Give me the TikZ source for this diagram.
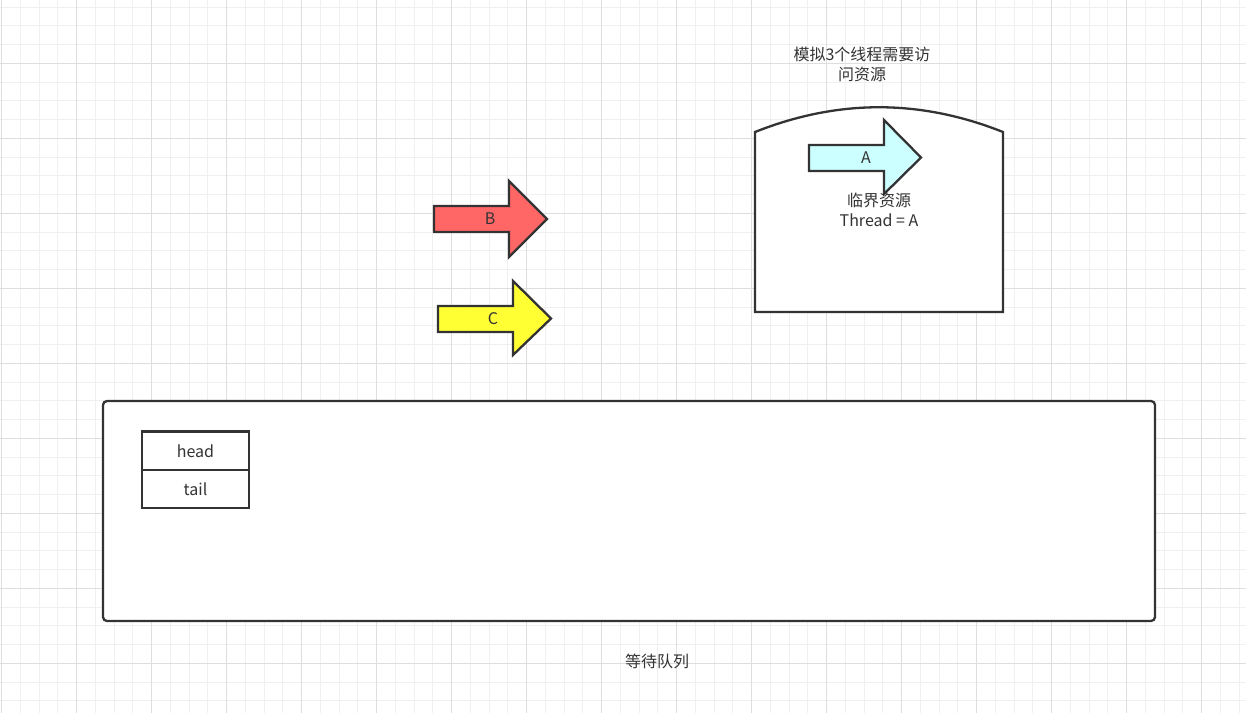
\documentclass[tikz,border=0pt]{standalone}
\usepackage{fontspec}
\setmainfont{Noto Sans CJK SC}
\definecolor{ln}{HTML}{333333}
\definecolor{gmin}{HTML}{F0F0F0}
\definecolor{gmaj}{HTML}{DEDEDE}
\definecolor{acol}{HTML}{CCFFFF}
\definecolor{bcol}{HTML}{FF6666}
\definecolor{ccol}{HTML}{FFFF33}
\begin{document}
\begin{tikzpicture}[x=1pt,y=-1pt,
  shapeline/.style={draw=ln,line width=2.3pt,line join=miter},
  lbl/.style={text=ln,font=\fontsize{16}{20}\selectfont,align=center,inner sep=0pt},
  arrowlbl/.style={text=ln,font=\fontsize{16}{18}\selectfont,inner sep=0pt}]
\useasboundingbox (0,0) rectangle (1246,713);
\fill[white] (0,0) rectangle (1246,713);
% grid
\foreach \k in {0,...,66} {\draw[gmin,line width=1pt] ({1.7+18.75*\k},0) -- ({1.7+18.75*\k},713);}
\foreach \k in {0,...,37} {\draw[gmin,line width=1pt] (0,{7.05+18.75*\k}) -- (1246,{7.05+18.75*\k});}
\foreach \k in {0,...,16} {\draw[gmaj,line width=1pt] ({1.7+75*\k},0) -- ({1.7+75*\k},713);}
\foreach \k in {0,...,9} {\draw[gmaj,line width=1pt] (0,{63.3+75*\k}) -- (1246,{63.3+75*\k});}
% title
\node[lbl] (title) at (862,64) {模拟3个线程需要访\\问资源};
% critical resource shape
\draw[shapeline,fill=white] (755,312) -- (755,132) .. controls (838,99) and (920,99) .. (1003,132) -- (1003,312) -- cycle;
% arrow A
\draw[shapeline,fill=acol] (809,145) -- (884,145) -- (884,120) -- (921,157.5) -- (884,194) -- (884,171) -- (809,171) -- cycle;
\node[arrowlbl] (la) at (866,158) {A};
\node[lbl] (crit) at (879,210) {临界资源\\Thread = A};
% arrow B
\draw[shapeline,fill=bcol] (434,206) -- (509,206) -- (509,181) -- (547,219) -- (509,257) -- (509,232) -- (434,232) -- cycle;
\node[arrowlbl] (lb) at (490,219) {B};
% arrow C
\draw[shapeline,fill=ccol] (438,306) -- (513,306) -- (513,281) -- (551,318.5) -- (513,355) -- (513,332) -- (438,332) -- cycle;
\node[arrowlbl] (lc) at (493,319) {C};
% queue
\draw[shapeline,fill=white,rounded corners=4pt] (103,401) rectangle (1155,621);
\draw[shapeline,fill=white] (142,431.5) rectangle (249,470);
\draw[shapeline,fill=white] (142,470) rectangle (249,508);
\node[arrowlbl] (head) at (195.5,451) {head};
\node[arrowlbl] (tail) at (195.5,489) {tail};
\node[lbl] (queue) at (657,661) {等待队列};
\end{tikzpicture}
\end{document}
